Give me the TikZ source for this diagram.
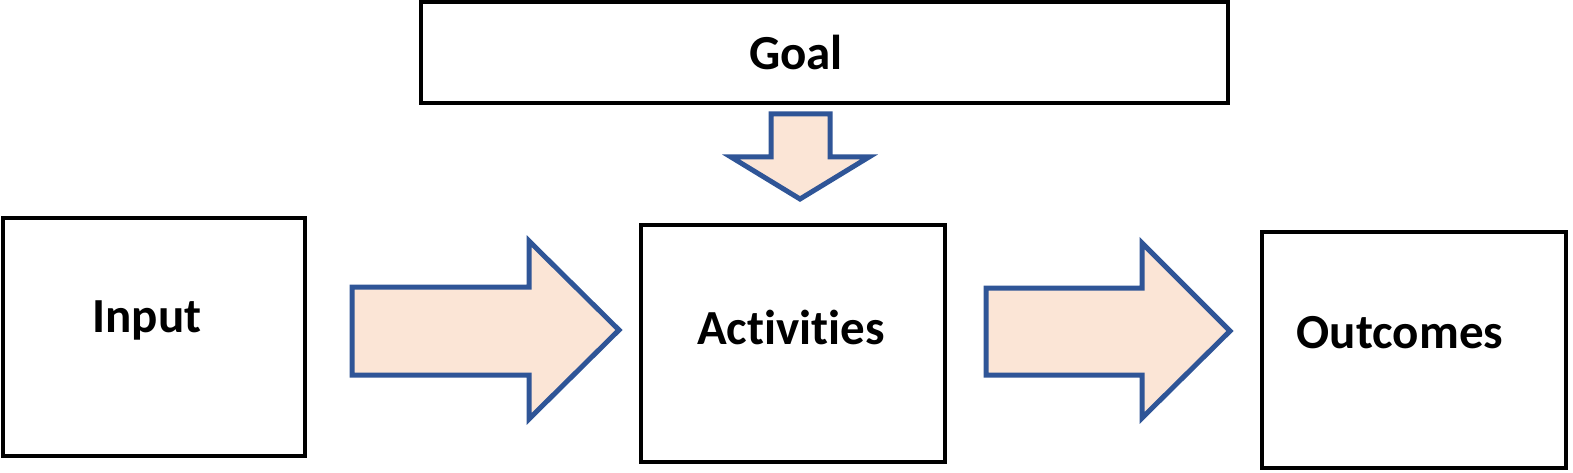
\documentclass[tikz,border=0pt]{standalone}
\usepackage{fontspec}
\setmainfont{Carlito}[Ligatures=NoCommon]
\definecolor{arrowblue}{HTML}{2F5597}
\definecolor{arrowfill}{HTML}{FBE5D6}
\tikzset{
  boxstyle/.style={draw=black, line width=4pt, fill=white},
  blockarrow/.style={draw=arrowblue, fill=arrowfill, line width=5pt, line join=miter},
  lbl/.style={font=\fontsize{49}{55}\selectfont\bfseries, inner sep=0pt}
}
\begin{document}
\begin{tikzpicture}[x=1pt, y=-1pt]
\useasboundingbox (0,0) rectangle (1573,473);
% boxes
\draw[boxstyle] (421,2.5) rectangle (1228,103);
\draw[boxstyle] (2.5,218) rectangle (305,456);
\draw[boxstyle] (641,225) rectangle (945,462);
\draw[boxstyle] (1262,232) rectangle (1566,468);
% labels
\node[lbl] (goal) at (796,52) {Goal};
\node[lbl] (input) at (147,320) {Input};
\node[lbl] (act) at (791,327) {Activities};
\node[lbl] (out) at (1400,333) {Outcomes};
% block arrows
\draw[blockarrow] (771,114) -- (830,114) -- (830,157) -- (869,157) -- (800,199) -- (731,157) -- (771,157) -- cycle;
\draw[blockarrow] (352,287) -- (529,287) -- (529,241) -- (619,330) -- (529,419) -- (529,375) -- (352,375) -- cycle;
\draw[blockarrow] (986,288) -- (1142,288) -- (1142,243) -- (1230,331) -- (1142,418) -- (1142,375) -- (986,375) -- cycle;
\end{tikzpicture}
\end{document}
